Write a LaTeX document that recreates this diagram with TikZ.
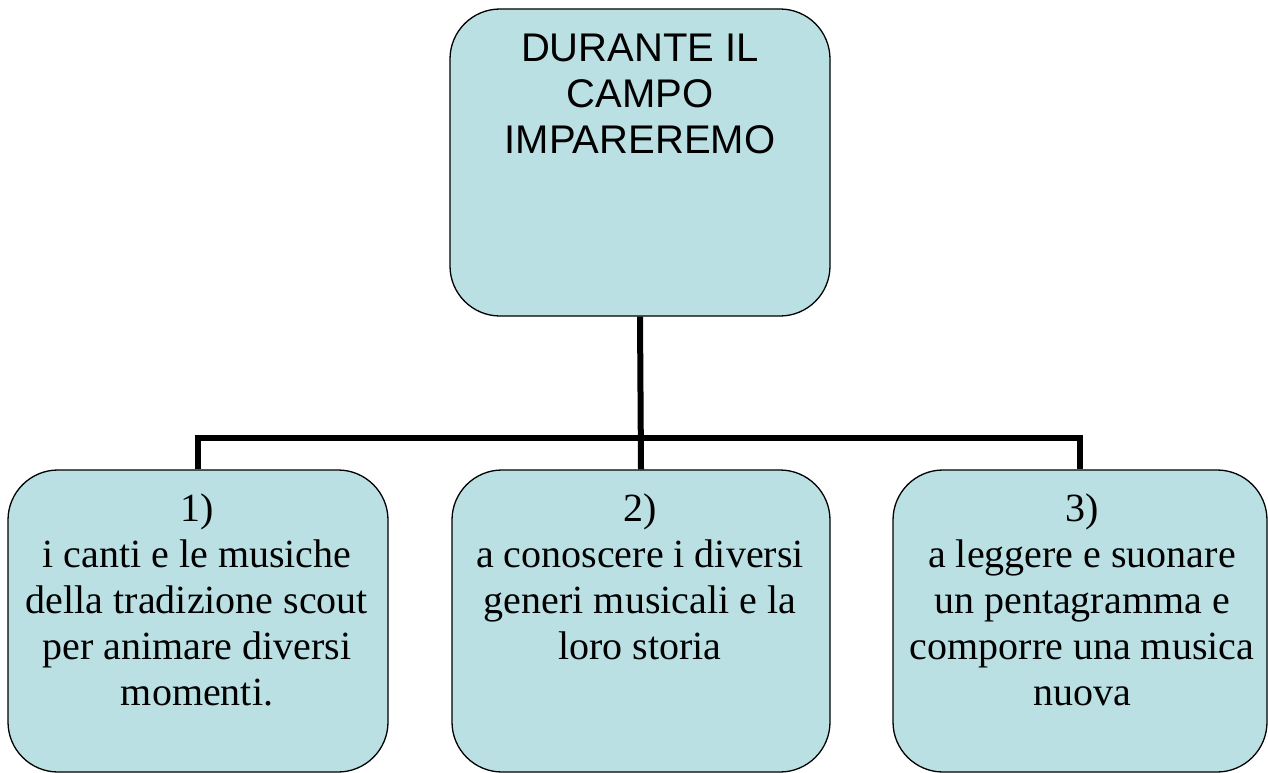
\documentclass[tikz,border=0pt]{standalone}
\usepackage{fontspec}
\newfontfamily\sansf{Liberation Sans}
\newfontfamily\serf{Liberation Serif}
\definecolor{boxfill}{HTML}{BBE0E3}
\begin{document}
\begin{tikzpicture}[x=1pt,y=-1pt,
  box/.style={draw=black, line width=1.3pt, fill=boxfill, rounded corners=50pt, inner sep=0pt},
  conn/.style={draw=black, line width=6pt},
  toptext/.style={font=\sansf\fontsize{40}{46}\selectfont, align=center, anchor=north, inner sep=0pt},
  bottext/.style={font=\serf\fontsize{40}{46}\selectfont, align=center, anchor=north, inner sep=0pt}]
\useasboundingbox[fill=white] (0,0) rectangle (1268,773);
\node[box, minimum width=380pt, minimum height=307pt] (top) at (640,162.5) {};
\node[box, minimum width=380pt, minimum height=302pt] (b1) at (198,621) {};
\node[box, minimum width=378pt, minimum height=302pt] (b2) at (641,621) {};
\node[box, minimum width=374pt, minimum height=302pt] (b3) at (1080,621) {};
\coordinate (j) at (640,438);
\draw[conn] (top.south) -- (b2.north);
\draw[conn] (b1.north) |- (j) -| (b3.north);
\node[toptext] (tt) at (640,34) {DURANTE IL\\CAMPO\\IMPAREREMO};
\node[bottext] (t1) at (197,494) {1)\\i canti e le musiche\\della tradizione scout\\per animare diversi\\momenti.};
\node[bottext] (t2) at (640,494) {2)\\a conoscere i diversi\\generi musicali e la\\loro storia};
\node[bottext] (t3) at (1082,494) {3)\\a leggere e suonare\\un pentagramma e\\comporre una musica\\nuova};
\end{tikzpicture}
\end{document}
